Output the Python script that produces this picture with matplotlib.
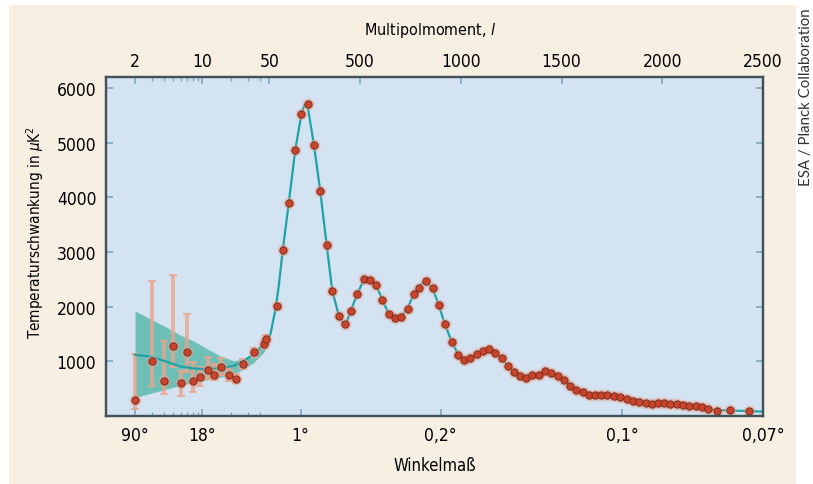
import numpy as np
import matplotlib
matplotlib.use("Agg")
import matplotlib.pyplot as plt
from matplotlib.patches import Rectangle

plt.rcParams['font.family'] = ['DejaVu Sans']
plt.rcParams['font.stretch'] = 'condensed'
plt.rcParams['mathtext.fontset'] = 'custom'
plt.rcParams['mathtext.rm'] = 'DejaVu Sans:stretch=condensed'
plt.rcParams['mathtext.it'] = 'DejaVu Sans:italic:stretch=condensed'

# Planck Messpunkte
low_l = [2, 3, 4, 5, 6, 7, 8, 9.4, 11.4, 13.4, 15.8, 18.8, 22.2, 26.7, 34.3, 43.5, 46.5]
low_d = [298, 1004, 645, 1283, 597, 1162, 633, 717, 840, 754, 900, 754, 675, 949, 1162, 1314, 1405]
low_err_lo = [128, 553, 400, 888, 370, 797, 437, 550, 680, 650, 750, 640, 600, 860, 1080, 1240, 1330]
low_err_hi = [1131, 2470, 1375, 2573, 827, 1862, 985, 900, 1070, 950, 1060, 870, 760, 1040, 1250, 1390, 1480]

high_l = [85, 116, 146, 178, 209, 239, 271, 302, 334, 362, 395, 425, 453, 487, 517, 548,
          578, 611, 641, 674, 702, 736, 766, 794, 827, 860, 890, 921, 955, 988, 1016, 1048,
          1079, 1109, 1139, 1172, 1204, 1234, 1264, 1295, 1325, 1355, 1386, 1420, 1449, 1483,
          1513, 1544, 1574, 1604, 1637, 1665, 1695, 1728, 1760, 1790, 1823, 1853, 1884, 1918,
          1947, 1977, 2011, 2039, 2072, 2102, 2133, 2166, 2196, 2226, 2271, 2334, 2429]
high_d = [2013, 3030, 3900, 4860, 5530, 5707, 4951, 4119, 3127, 2287, 1831, 1691, 1922, 2239, 2513, 2488,
          2397, 2123, 1874, 1788, 1819, 1965, 2239, 2348, 2470, 2336, 2032, 1679, 1357, 1119, 1028, 1053,
          1131, 1192, 1223, 1150, 1053, 918, 808, 735, 693, 754, 754, 815, 779, 724,
          663, 553, 474, 432, 389, 389, 389, 383, 371, 353, 310, 268, 250, 237,
          219, 231, 237, 219, 219, 207, 189, 176, 158, 128, 97, 115, 97]

# Modellkurve
theory_l = [2, 3, 4.3, 5.9, 8.1, 11.2, 15.3, 21.2, 27, 34.3, 43.5, 55, 65, 80, 96,
            116, 146, 178, 209, 224, 239, 271, 302, 334, 362, 395, 415, 432, 453, 487, 517,
            532, 548, 578, 611, 641, 674, 688, 702, 736, 766, 794, 812, 827, 860, 890, 921,
            955, 988, 1016, 1032, 1048, 1079, 1109, 1139, 1172, 1204, 1234, 1264, 1295, 1325,
            1355, 1386, 1420, 1449, 1483, 1513, 1544, 1574, 1604, 1637, 1665, 1695, 1728, 1760,
            1790, 1823, 1853, 1884, 1918, 1947, 1977, 2011, 2039, 2072, 2102, 2133, 2166, 2196,
            2226, 2271, 2334, 2429, 2500]
theory_d = [1119, 1083, 991, 907, 870, 858, 870, 918, 1009, 1131, 1314, 1496, 1680, 1953, 2378,
            3030, 3900, 4860, 5530, 5690, 5680, 4951, 4119, 3127, 2287, 1831, 1700, 1700, 1922, 2239, 2480,
            2530, 2490, 2397, 2123, 1874, 1788, 1780, 1819, 1965, 2239, 2370, 2440, 2440, 2336, 2032, 1679,
            1357, 1119, 1028, 1030, 1060, 1131, 1192, 1210, 1150, 1053, 918, 808, 735, 710,
            740, 765, 790, 779, 724, 663, 553, 474, 432, 400, 389, 385, 380, 368,
            350, 310, 272, 255, 240, 228, 228, 230, 219, 212, 205, 189, 176, 158,
            135, 110, 100, 90, 80]

# kosmische Varianz
band_l = [2, 3, 4.3, 5.9, 8.1, 11.2, 15.3, 21.2, 27, 34.3, 43.5, 50, 55]
band_lo = [341, 420, 493, 560, 615, 660, 706, 767, 858, 980, 1162, 1330, 1470]
band_hi = [1922, 1760, 1619, 1480, 1374, 1230, 1101, 1009, 1040, 1162, 1345, 1440, 1520]

multipol_ticks = [2, 10, 50, 500, 1000, 1500, 2000, 2500]
angle_pos = [2, 10, 205, 900, 1800, 2500]
angle_labels = ['90°', '18°', '1°', '0,2°', '0,1°', '0,07°']
minor_l = [3, 4, 5, 6, 7, 8, 9, 20, 30, 40]
y_ticks = [1000, 2000, 3000, 4000, 5000, 6000]

A = 95.9   # px je Dekade (log-Teil)
B = 0.2008  # px je l (linearer Teil)
U50 = A * np.log10(50)


def fwd(l):
    l = np.asarray(l, dtype=float)
    lo = A * np.log10(np.clip(l, 1e-3, None))
    hi = U50 + B * (l - 50)
    return np.where(l < 50, lo, hi)


def inv(u):
    u = np.asarray(u, dtype=float)
    lo = 10 ** (np.clip(u, -500, U50) / A)
    hi = 50 + (u - U50) / B
    return np.where(u < U50, lo, hi)


cream = '#f8efe3'
plot_bg = '#d3e3f1'
teal = '#1ea3a6'
spine_c = '#44525c'
tick_c = '#7fa6c2'

fig = plt.figure(figsize=(8.13, 4.85), dpi=100, facecolor='white')
fig.patches.append(Rectangle((9 / 813, 0), 787 / 813, 1 - 6 / 485, transform=fig.transFigure,
                             facecolor=cream, edgecolor='none', zorder=-10))

ax = fig.add_axes([106 / 813, 1 - 417 / 485, 657 / 813, 339 / 485])
ax.set_facecolor(plot_bg)
ax.set_xscale('function', functions=(fwd, inv))
ax.set_xlim(1, 2500)
ax.set_ylim(0, 6200)

ax.fill_between(band_l, band_lo, band_hi, color='#55b8a9', alpha=0.8, lw=0, zorder=1)

low_l_arr = np.array(low_l)
low_d_arr = np.array(low_d)
yerr = [low_d_arr - np.array(low_err_lo), np.array(low_err_hi) - low_d_arr]
ax.errorbar(low_l_arr, low_d_arr, yerr=yerr, fmt='none', ecolor='#e9a58e', elinewidth=2.8,
            capsize=3, capthick=1.5, alpha=0.8, zorder=2)

ax.plot(theory_l, theory_d, color=teal, lw=1.6, zorder=3)

all_l = low_l + high_l
all_d = low_d + high_d
ax.plot(all_l, all_d, 'o', ms=8.5, color='#eaa08a', alpha=0.5, mec='none', zorder=4)
ax.plot(all_l, all_d, 'o', ms=5.3, mfc='#c9442b', mec='#6e2a1f', mew=0.6, zorder=5)

ax.set_xticks(angle_pos)
ax.set_xticklabels(angle_labels)
ax.set_xticks(minor_l, minor=True)
ax.set_xticklabels([], minor=True)
ax.set_yticks(y_ticks)
ax.tick_params(axis='x', which='major', direction='in', length=5, color=tick_c, width=1.2,
               labelsize=12.5, pad=7, top=False)
ax.tick_params(axis='x', which='minor', direction='in', length=3, color=tick_c, width=1, top=False)
ax.tick_params(axis='y', direction='in', length=5, color=tick_c, width=1.2, labelsize=12.5,
               pad=7, left=True, right=True)

ax2 = ax.twiny()
ax2.set_xscale('function', functions=(fwd, inv))
ax2.set_xlim(1, 2500)
ax2.set_xticks(multipol_ticks)
ax2.set_xticklabels([str(t) for t in multipol_ticks])
ax2.set_xticks(minor_l, minor=True)
ax2.set_xticklabels([], minor=True)
ax2.tick_params(axis='x', which='major', direction='in', length=5, color=tick_c, width=1.2,
                labelsize=12.5, pad=5)
ax2.tick_params(axis='x', which='minor', direction='in', length=3, color=tick_c, width=1)

for a in (ax, ax2):
    for s in a.spines.values():
        s.set_color(spine_c)
        s.set_linewidth(1.6)

fig.text(430 / 813, 1 - 30 / 485, 'Multipolmoment, $l$', ha='center', va='center', fontsize=11.5)
fig.text(435 / 813, 1 - 466 / 485, 'Winkelmaß', ha='center', va='center', fontsize=12)
fig.text(35 / 813, 1 - 232 / 485, r'Temperaturschwankung in $\mu\mathrm{K}^2$', ha='center',
         va='center', rotation=90, fontsize=11)
fig.text(806 / 813, 1 - 8 / 485, 'ESA / Planck Collaboration', ha='center', va='top',
         rotation=90, fontsize=10.8, family=['Lato', 'DejaVu Sans'], stretch='normal',
         color='#333333')

fig.savefig('out.png', dpi=100, facecolor='white')
